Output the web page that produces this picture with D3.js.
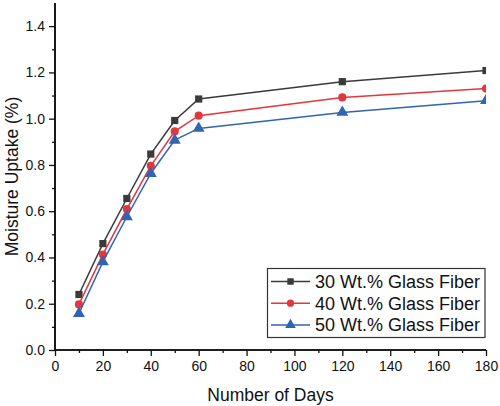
<!DOCTYPE html>
<html><head><meta charset="utf-8">
<script src="https://cdn.jsdelivr.net/npm/d3@7"></script>
<style>body{margin:0;background:#fff}svg{display:block;font-family:"Liberation Sans",Arial,sans-serif}</style>
</head><body>
<svg id="c" width="500" height="406"></svg>
<script>
const days = [10, 20, 30, 40, 50, 60, 120, 180];
const gf30 = [0.24, 0.46, 0.655, 0.847, 0.992, 1.085, 1.160, 1.208];
const gf40 = [0.197, 0.413, 0.609, 0.796, 0.945, 1.013, 1.092, 1.130];
const gf50 = [0.158, 0.381, 0.576, 0.763, 0.907, 0.958, 1.027, 1.078];
const seriesNames = ["30 Wt.% Glass Fiber", "40 Wt.% Glass Fiber", "50 Wt.% Glass Fiber"];
const xTicks = [0, 20, 40, 60, 80, 100, 120, 140, 160, 180];
const yTicks = [0.0, 0.2, 0.4, 0.6, 0.8, 1.0, 1.2, 1.4];
const xTitle = "Number of Days";
const yTitle = "Moisture Uptake (%)";

const colors = ["#3a3a3a", "#e3363d", "#3264b0"];
const shapes = [d3.symbolSquare, d3.symbolCircle, d3.symbolTriangle];
const sizes = [52, 52, 62];
const seriesVals = [gf30, gf40, gf50];

const L = 55, R = 486, T = 3, B = 350;
const svg = d3.select("#c");
const x = d3.scaleLinear().domain([0, 180]).range([L, R]);
const y = d3.scaleLinear().domain([0, 1.5]).range([B, T]);

svg.append("defs").append("clipPath").attr("id", "clip")
  .append("rect").attr("x", L).attr("y", 0).attr("width", R - L).attr("height", B);

// axes
const xMinor = d3.range(10, 180, 20);
const yMinor = d3.range(0.1, 1.5, 0.2);
const gx = svg.append("g").attr("transform", `translate(0,${B})`);
gx.call(d3.axisBottom(x).tickValues(xMinor).tickSize(3).tickFormat(""));
gx.append("g").call(d3.axisBottom(x).tickValues(xTicks).tickSize(6).tickPadding(5).tickFormat(d3.format("d")));
const gy = svg.append("g").attr("transform", `translate(${L},0)`);
gy.call(d3.axisLeft(y).tickValues(yMinor).tickSize(3).tickFormat(""));
gy.append("g").call(d3.axisLeft(y).tickValues(yTicks).tickSize(6).tickPadding(4).tickFormat(d3.format(".1f")));
svg.selectAll(".domain").attr("stroke", "#111").attr("stroke-width", 1.6);
svg.selectAll(".tick line").attr("stroke", "#111").attr("stroke-width", 1.3);
svg.selectAll(".tick text").attr("font-size", 14).attr("fill", "#111").attr("font-family", "Liberation Sans, Arial, sans-serif");
gx.selectAll(".domain").attr("d", `M${L},0H${R}`);
gy.selectAll(".domain").attr("d", `M0,${B}V${T}`);

// titles
svg.append("text").attr("x", (L + R) / 2).attr("y", 401).attr("text-anchor", "middle")
  .attr("font-size", 17.5).attr("fill", "#111").text(xTitle);
svg.append("text").attr("transform", `translate(18,${(T + B) / 2}) rotate(-90)`).attr("text-anchor", "middle")
  .attr("font-size", 17.5).attr("fill", "#111").text(yTitle);

// series
const plot = svg.append("g").attr("clip-path", "url(#clip)");
const line = d3.line().x((d, i) => x(days[i])).y(d => y(d));
seriesVals.forEach((vals, k) => {
  plot.append("path").datum(vals).attr("d", line).attr("fill", "none")
    .attr("stroke", colors[k]).attr("stroke-width", 1.5);
  plot.selectAll(null).data(vals).enter().append("path")
    .attr("d", d3.symbol().type(shapes[k]).size(sizes[k]))
    .attr("transform", (d, i) => `translate(${x(days[i])},${y(d)})`)
    .attr("fill", colors[k]);
});

// legend
const lg = svg.append("g");
lg.append("rect").attr("x", 267.5).attr("y", 268.5).attr("width", 217.5).attr("height", 69)
  .attr("fill", "#fff").attr("stroke", "#333").attr("stroke-width", 1.2);
seriesNames.forEach((name, k) => {
  const yy = 281.5 + k * 21.7;
  lg.append("line").attr("x1", 271).attr("x2", 310).attr("y1", yy).attr("y2", yy)
    .attr("stroke", colors[k]).attr("stroke-width", 1.5);
  lg.append("path").attr("d", d3.symbol().type(shapes[k]).size(sizes[k] * 0.8))
    .attr("transform", `translate(290.5,${yy})`).attr("fill", colors[k]);
  lg.append("text").attr("x", 315).attr("y", yy + 6.5).attr("font-size", 18).attr("fill", "#111").text(name);
});
</script>
</body></html>
